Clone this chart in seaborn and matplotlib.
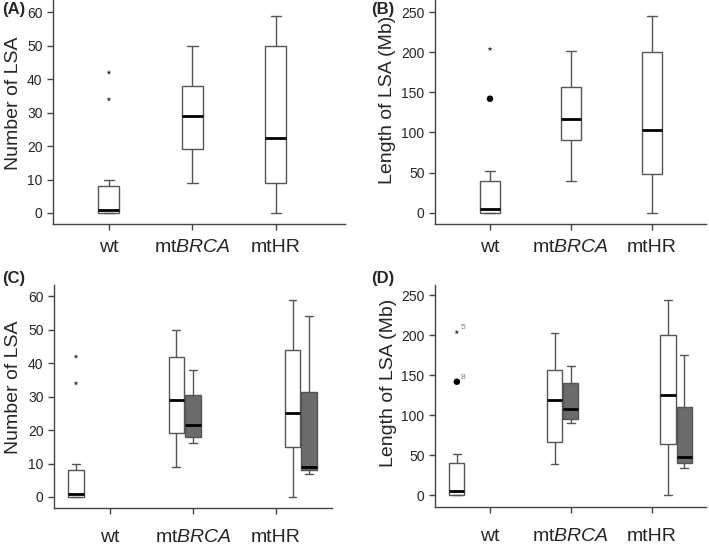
import pandas as pd
import numpy as np
import seaborn as sns
import matplotlib.pyplot as plt

# five-number summaries: [whisker low, q1, median, q3, whisker high]
groups = ['wt', 'mtBRCA', 'mtHR']
group_labels = ['wt', r'mt$\mathit{BRCA}$', 'mtHR']

count_wt = [0, 0, 1, 8, 10]
count_brca = [9, 19, 29, 38, 50]
count_hr = [0, 9, 22.5, 50, 59]

length_wt = [0, 0, 5, 40, 52]
length_brca = [39, 90, 117, 157, 202]
length_hr = [0, 48, 103, 200, 245]

# panel C / D: all cases (white) and subgroup (grey)
count_brca_all = [9, 19, 29, 42, 50]
count_hr_all = [0, 15, 25, 44, 59]
count_brca_sub = [16, 18, 21.5, 30.5, 38]
count_hr_sub = [7, 8, 9, 31.5, 54]

length_brca_all = [39, 67, 119, 157, 203]
length_hr_all = [0, 64, 126, 201, 244]
length_brca_sub = [90, 95, 108.5, 140, 162]
length_hr_sub = [34, 40.5, 48, 111, 176]

# outliers of the wt group
count_wt_stars = [42, 34]
length_wt_stars = [204]
length_wt_dots = [142]
length_star_ids = ['5']
length_dot_ids = ['8']

box_colors = {'all': 'white', 'sub': '#6b6b6b'}
line_col = '#555555'

sns.set_style('ticks')
plt.rcParams['font.family'] = ['Liberation Sans', 'DejaVu Sans']
plt.rcParams['mathtext.fontset'] = 'custom'
plt.rcParams['mathtext.rm'] = 'Liberation Sans'
plt.rcParams['mathtext.it'] = 'Liberation Sans:italic'


def make_frame(boxes, positions):
    rows = []
    for (grp, kind), vals in boxes.items():
        for v in vals:
            rows.append({'pos': positions[(grp, kind)], 'kind': kind, 'value': v})
    return pd.DataFrame(rows)


def draw_panel(ax, frame, width, ylabel, ylim, xlim, ticks, label_xy, tick_pad):
    sns.boxplot(data=frame, x='pos', y='value', hue='kind', palette=box_colors,
                native_scale=True, dodge=False, whis=(0, 100), width=width,
                linecolor=line_col, linewidth=1, saturation=1, showfliers=False,
                medianprops=dict(color='black', linewidth=2), legend=False, ax=ax)
    ax.set_xlim(*xlim)
    ax.set_ylim(*ylim)
    ax.set_yticks(ticks)
    ax.set_xticks([0, 1, 2])
    ax.set_xticklabels(group_labels)
    ax.set_xlabel('')
    ax.set_ylabel(ylabel, fontsize=14)
    ax.yaxis.set_label_coords(*label_xy)
    ax.tick_params(axis='x', labelsize=14, length=4, width=1, color='#444444', pad=tick_pad)
    ax.tick_params(axis='y', labelsize=10, length=4, width=1, color='#444444')
    sns.despine(ax=ax)
    for s in ['left', 'bottom']:
        ax.spines[s].set_color('#444444')
        ax.spines[s].set_linewidth(1)


fig = plt.figure(figsize=(7.09, 5.46), dpi=100)
ax_a = fig.add_axes([0.0748, 0.5897, 0.4118, 0.4103])
ax_b = fig.add_axes([0.6135, 0.5897, 0.3822, 0.4103])
ax_c = fig.add_axes([0.0762, 0.0696, 0.392, 0.4084])
ax_d = fig.add_axes([0.6135, 0.072, 0.3822, 0.406])

single_pos = {('wt', 'all'): 0, ('mtBRCA', 'all'): 1, ('mtHR', 'all'): 2}
split_pos = {('wt', 'all'): -0.41, ('mtBRCA', 'all'): 0.8, ('mtBRCA', 'sub'): 1.0,
             ('mtHR', 'all'): 2.2, ('mtHR', 'sub'): 2.4}

frame_a = make_frame({('wt', 'all'): count_wt, ('mtBRCA', 'all'): count_brca,
                      ('mtHR', 'all'): count_hr}, single_pos)
frame_b = make_frame({('wt', 'all'): length_wt, ('mtBRCA', 'all'): length_brca,
                      ('mtHR', 'all'): length_hr}, single_pos)
frame_c = make_frame({('wt', 'all'): count_wt, ('mtBRCA', 'all'): count_brca_all,
                      ('mtBRCA', 'sub'): count_brca_sub, ('mtHR', 'all'): count_hr_all,
                      ('mtHR', 'sub'): count_hr_sub}, split_pos)
frame_d = make_frame({('wt', 'all'): length_wt, ('mtBRCA', 'all'): length_brca_all,
                      ('mtBRCA', 'sub'): length_brca_sub, ('mtHR', 'all'): length_hr_all,
                      ('mtHR', 'sub'): length_hr_sub}, split_pos)

draw_panel(ax_a, frame_a, 0.25, 'Number of LSA', (-3.3, 63.7), (-0.67, 2.83),
           [0, 10, 20, 30, 40, 50, 60], (-0.106, 0.54), 7)
draw_panel(ax_b, frame_b, 0.25, 'Length of LSA (Mb)', (-14.1, 265), (-0.68, 2.67),
           [0, 50, 100, 150, 200, 250], (-0.142, 0.553), 7)
draw_panel(ax_c, frame_c, 0.94, 'Number of LSA', (-3.3, 63.4), (-0.675, 2.675),
           [0, 10, 20, 30, 40, 50, 60], (-0.115, 0.54), 11.3)
draw_panel(ax_d, frame_d, 0.94, 'Length of LSA (Mb)', (-14.2, 262.9), (-0.68, 2.67),
           [0, 50, 100, 150, 200, 250], (-0.14, 0.56), 11.3)

# outliers
star_kw = dict(marker='*', s=14, color='#333333', edgecolor='none', zorder=5)
dot_kw = dict(marker='o', s=22, color='black', edgecolor='none', zorder=5)
ax_a.scatter([0] * len(count_wt_stars), count_wt_stars, **star_kw)
ax_b.scatter([0] * len(length_wt_stars), length_wt_stars, **star_kw)
ax_b.scatter([0] * len(length_wt_dots), length_wt_dots, **dot_kw)
ax_c.scatter([-0.41] * len(count_wt_stars), count_wt_stars, **star_kw)
ax_d.scatter([-0.41] * len(length_wt_stars), length_wt_stars, **star_kw)
ax_d.scatter([-0.41] * len(length_wt_dots), length_wt_dots, **dot_kw)
for v, t in zip(length_wt_stars, length_star_ids):
    ax_d.annotate(t, (-0.41, v), xytext=(3, 2), textcoords='offset points',
                  fontsize=6, color='#777777')
for v, t in zip(length_wt_dots, length_dot_ids):
    ax_d.annotate(t, (-0.41, v), xytext=(3, 2), textcoords='offset points',
                  fontsize=6, color='#777777')

# panel letters
fig.text(2 / 709, 1 - 2 / 546, '(A)', fontsize=12, fontweight='bold', va='top')
fig.text(371 / 709, 1 - 2 / 546, '(B)', fontsize=12, fontweight='bold', va='top')
fig.text(2 / 709, 1 - 271 / 546, '(C)', fontsize=12, fontweight='bold', va='top')
fig.text(371 / 709, 1 - 271 / 546, '(D)', fontsize=12, fontweight='bold', va='top')

fig.savefig('out.png', dpi=100)
